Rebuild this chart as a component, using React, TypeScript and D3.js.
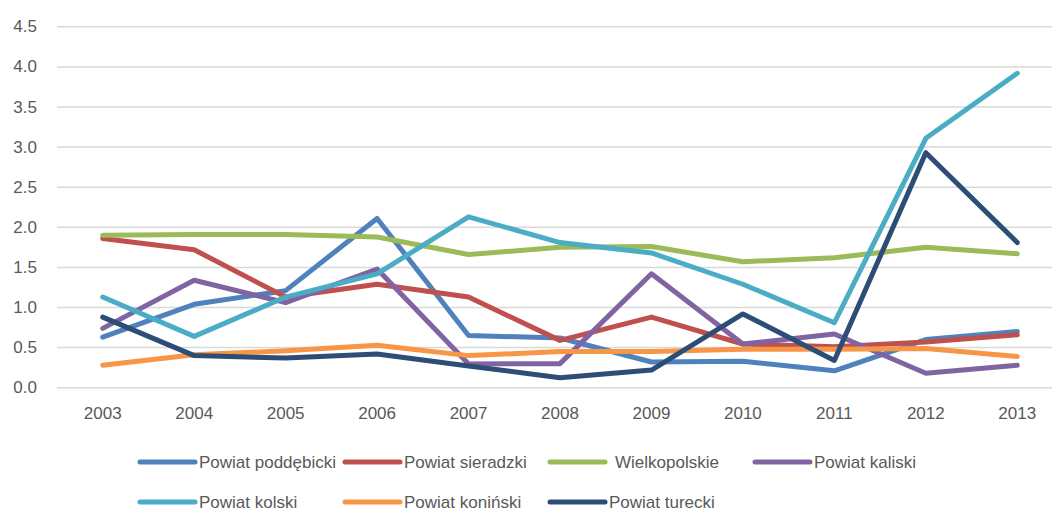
import React from "react";
import * as d3 from "d3";

const years = ["2003","2004","2005","2006","2007","2008","2009","2010","2011","2012","2013"];
const yTicks = [0, 0.5, 1, 1.5, 2, 2.5, 3, 3.5, 4, 4.5];

const poddebicki = [0.63, 1.04, 1.21, 2.11, 0.65, 0.62, 0.32, 0.33, 0.21, 0.60, 0.70];
const sieradzki = [1.86, 1.72, 1.13, 1.29, 1.13, 0.59, 0.88, 0.545, 0.51, 0.57, 0.66];
const wielkopolskie = [1.90, 1.91, 1.91, 1.88, 1.66, 1.75, 1.76, 1.57, 1.62, 1.75, 1.67];
const kaliski = [0.74, 1.34, 1.06, 1.48, 0.295, 0.30, 1.42, 0.545, 0.67, 0.18, 0.28];
const kolski = [1.13, 0.64, 1.13, 1.42, 2.13, 1.81, 1.68, 1.29, 0.81, 3.11, 3.92];
const koninski = [0.28, 0.41, 0.46, 0.53, 0.40, 0.45, 0.45, 0.48, 0.48, 0.49, 0.39];
const turecki = [0.88, 0.40, 0.37, 0.42, 0.27, 0.125, 0.22, 0.92, 0.34, 2.93, 1.81];

const seriesNames = ["Powiat poddębicki", "Powiat sieradzki", "Wielkopolskie", "Powiat kaliski", "Powiat kolski", "Powiat koniński", "Powiat turecki"];
const seriesValues = [poddebicki, sieradzki, wielkopolskie, kaliski, kolski, koninski, turecki];
const seriesColors = ["#4F81BD", "#C0504D", "#9BBB59", "#8064A2", "#4BACC6", "#F79646", "#2C4D75"];

export default function App() {
  const W = 1052, H = 511;
  const x = d3.scaleBand<string>().domain(years).range([57, 1063]).padding(0);
  const cx = (yr: string) => (x(yr) as number) + x.bandwidth() / 2;
  const y = d3.scaleLinear().domain([0, 4.5]).range([387.7, 26.8]);
  const line = d3.line<number>().x((_, i) => cx(years[i])).y((v) => y(v));
  const font = "'Liberation Sans', Arial, sans-serif";
  const textColor = "#595959";

  const legendRows = [[0, 1, 2, 3], [4, 5, 6]];
  const legendX0 = 140, legendStep = 205;
  const legendY = [462, 502];

  return (
    <svg width={W} height={H} style={{ position: "absolute", left: 0, top: 0, background: "#fff" }} fontFamily={font}>
      {yTicks.map((t) => (
        <g key={t}>
          <line x1={57} x2={1063} y1={y(t)} y2={y(t)} stroke="#d9d9d9" strokeWidth={1.5} />
          <text x={37} y={y(t)} textAnchor="end" dominantBaseline="central" fontSize={17} fill={textColor}>
            {t.toFixed(1)}
          </text>
        </g>
      ))}
      {years.map((yr) => (
        <text key={yr} x={cx(yr)} y={413} textAnchor="middle" dominantBaseline="central" fontSize={17} fill={textColor}>
          {yr}
        </text>
      ))}
      {seriesValues.map((vals, i) => (
        <path key={seriesNames[i]} d={line(vals) || ""} fill="none" stroke={seriesColors[i]} strokeWidth={5} strokeLinejoin="round" strokeLinecap="round" />
      ))}
      {legendRows.map((row, r) =>
        row.map((si, k) => {
          const lx = legendX0 + k * legendStep;
          const ly = legendY[r];
          return (
            <g key={si}>
              <line x1={lx} x2={lx + 55} y1={ly} y2={ly} stroke={seriesColors[si]} strokeWidth={5} strokeLinecap="round" />
              <text x={lx + 59 + (si === 2 ? 6 : 0)} y={ly} dominantBaseline="central" fontSize={17} fill={textColor}>
                {seriesNames[si]}
              </text>
            </g>
          );
        })
      )}
    </svg>
  );
}
